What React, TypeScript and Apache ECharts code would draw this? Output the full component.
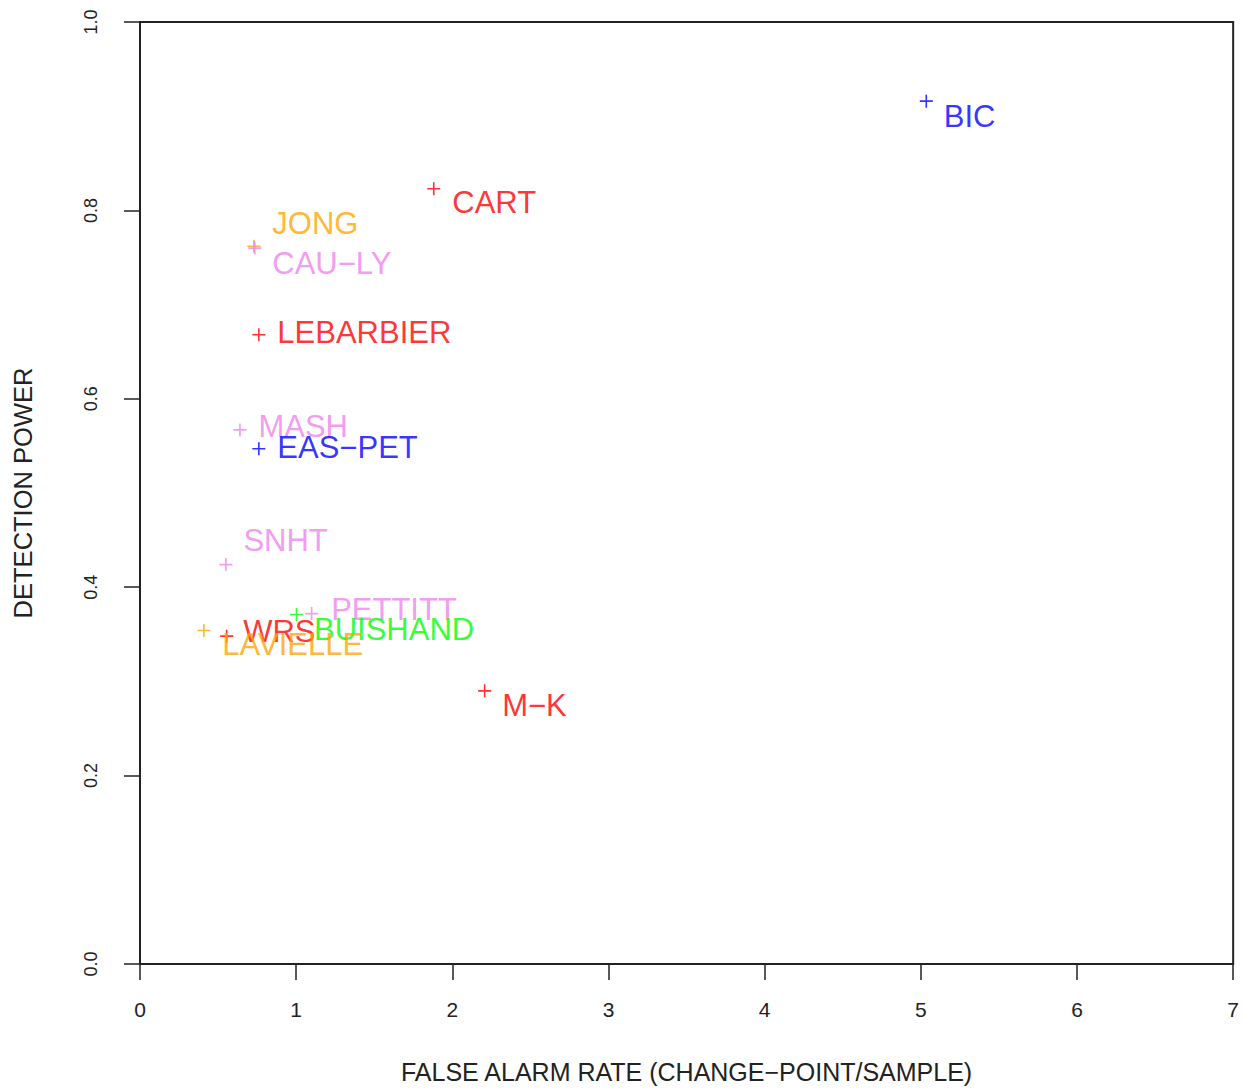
import React, { useEffect, useRef } from "react";
import * as echarts from "echarts";

const methods = ["BIC", "CART", "JONG", "CAU\u2212LY", "LEBARBIER", "MASH", "EAS\u2212PET", "SNHT", "PETTITT", "BUISHAND", "WRS", "LAVIELLE", "M\u2212K"];
const falseAlarmRate = [5.035, 1.881, 0.729, 0.735, 0.761, 0.64, 0.761, 0.55, 1.099, 1.002, 0.555, 0.409, 2.207];
const detectionPower = [0.916, 0.823, 0.762, 0.76, 0.668, 0.567, 0.547, 0.424, 0.372, 0.371, 0.348, 0.354, 0.29];
const methodColors = ["#0000ff", "#ff0000", "#ffa500", "#ee82ee", "#ff0000", "#ee82ee", "#0000ff", "#ee82ee", "#ee82ee", "#00ff00", "#ff0000", "#ffa500", "#ff0000"];
// label offsets (dx, dy) from marker centre, layout only
const labelOffsets = [[17, 15], [18, 14], [18, -23], [17, 15], [18, -2], [18, -3], [18, -1], [17, -24], [19, -4], [17, 15], [16, -5], [18, 14], [17, 15]];

const xTicks = { min: 0, max: 7, interval: 1 };
const yTicks = { min: 0, max: 1, interval: 0.2 };

const FONT = "'Liberation Sans', Arial, sans-serif";
const PLUS = "path://M0,5.25h12v1.5h-12z M5.25,0h1.5v12h-1.5z";

export default function App() {
  const ref = useRef<HTMLDivElement>(null);
  useEffect(() => {
    document.body.style.margin = "0";
    if (!ref.current) return;
    const chart = echarts.init(ref.current, undefined, { renderer: "svg" });
    const data = methods.map((name, i) => ({
      name,
      value: [falseAlarmRate[i], detectionPower[i]],
      itemStyle: { color: methodColors[i] },
      label: {
        show: true,
        formatter: name,
        position: "right",
        distance: 0,
        offset: [labelOffsets[i][0] - 6, labelOffsets[i][1]],
        color: methodColors[i],
        fontSize: 31,
        fontFamily: FONT,
      },
    }));
    chart.setOption({
      animation: false,
      backgroundColor: "#ffffff",
      grid: {
        left: 140,
        top: 22,
        right: 8,
        bottom: 123,
        show: true,
        borderColor: "#222",
        borderWidth: 2,
        backgroundColor: "transparent",
      },
      xAxis: {
        type: "value",
        min: xTicks.min,
        max: xTicks.max,
        interval: xTicks.interval,
        name: "FALSE ALARM RATE (CHANGE\u2212POINT/SAMPLE)",
        nameLocation: "middle",
        nameGap: 95,
        nameTextStyle: { fontSize: 25, color: "#222", fontFamily: FONT, verticalAlign: "top" },
        axisLine: { show: true, onZero: false, lineStyle: { color: "#222", width: 2 } },
        axisTick: { show: true, length: 16, lineStyle: { color: "#222", width: 1.5 } },
        axisLabel: { fontSize: 21, color: "#222", fontFamily: FONT, margin: 35 },
        splitLine: { show: false },
      },
      yAxis: {
        type: "value",
        min: yTicks.min,
        max: yTicks.max,
        interval: yTicks.interval,
        name: "DETECTION POWER",
        nameLocation: "middle",
        nameGap: 104,
        nameTextStyle: { fontSize: 25.5, color: "#222", fontFamily: FONT },
        axisLine: { show: true, onZero: false, lineStyle: { color: "#222", width: 2 } },
        axisTick: { show: true, length: 16, lineStyle: { color: "#222", width: 1.5 } },
        axisLabel: {
          fontSize: 18,
          color: "#222",
          fontFamily: FONT,
          rotate: 90,
          margin: 40,
          formatter: (v: number) => v.toFixed(1),
        },
        splitLine: { show: false },
      },
      series: [
        {
          type: "scatter",
          symbol: PLUS,
          symbolSize: 13,
          data,
        },
      ],
    });
    return () => chart.dispose();
  }, []);
  return <div ref={ref} style={{ width: 1242, height: 1089 }} />;
}
